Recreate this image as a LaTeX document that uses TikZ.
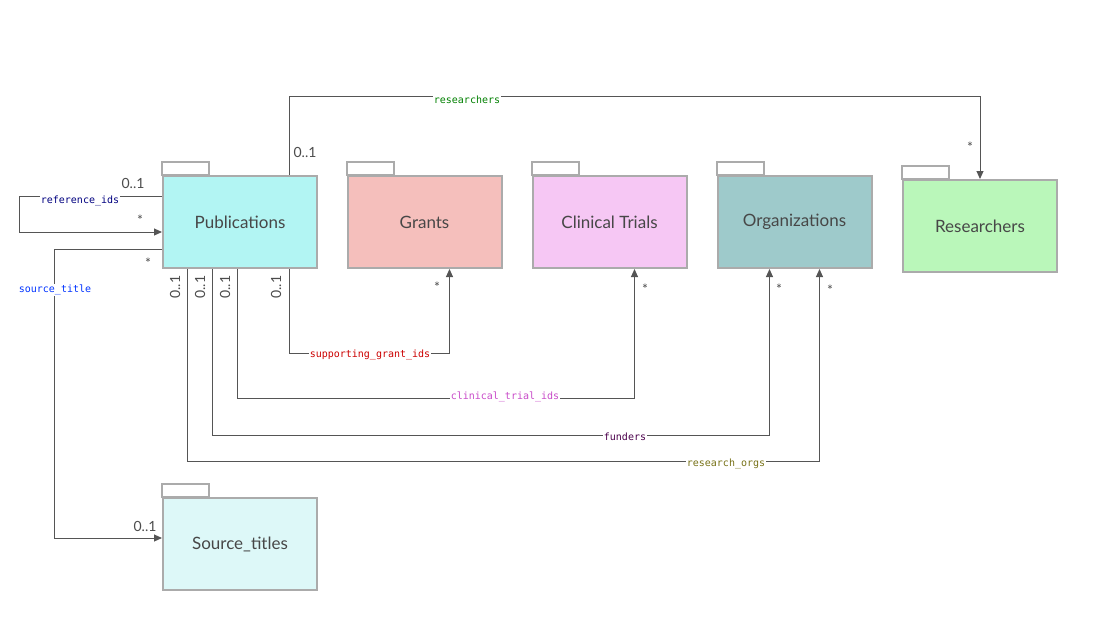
\documentclass[tikz,border=0pt]{standalone}
\usepackage{fontspec}
\setmainfont{Lato}
\newfontfamily\monofont{DejaVu Sans Mono}
\usetikzlibrary{arrows.meta,calc}
\definecolor{rimgray}{HTML}{ABABAB}
\definecolor{linegray}{HTML}{555555}
\definecolor{pubfill}{HTML}{B2F5F3}
\definecolor{grantfill}{HTML}{F5BFBC}
\definecolor{trialfill}{HTML}{F6C7F4}
\definecolor{orgfill}{HTML}{9ECACB}
\definecolor{resfill}{HTML}{BAF7BA}
\definecolor{srcfill}{HTML}{DDF8F8}
\begin{document}
\begin{tikzpicture}[x=1pt,y=-1pt,
  folder/.style={draw=rimgray, line width=2pt, fill=#1, minimum width=154pt, minimum height=92pt, font=\fontsize{17}{20}\selectfont, text=black!72, inner sep=0pt},
  tab/.style={draw=rimgray, line width=2pt},
  conn/.style={draw=linegray, line width=1pt},
  arr/.style={conn, -{Triangle[length=8pt, width=7pt]}},
  lbl/.style={font=\monofont\fontsize{10}{12}\selectfont, fill=white, inner sep=1pt},
  mult/.style={font=\fontsize{14}{16}\selectfont, text=black!70, inner sep=1pt}
]
\useasboundingbox (0,0) rectangle (1112,638);

% Folders
\node[folder=pubfill] (pub) at (240,222) {Publications};
\node[folder=grantfill] (grants) at (424.5,222) {Grants};
\node[folder=trialfill] (trials) at (609.5,222) {Clinical Trials};
\node[folder=orgfill] (orgs) at (794.5,222) {Organizations};
\node[folder=resfill] (res) at (980,226) {Researchers};
\node[folder=srcfill] (src) at (240,544) {Source\_titles};
\foreach \f in {pub,grants,trials,orgs,res,src}
  \draw[tab] (\f.north west) rectangle +(47,-13);

% Researchers
\draw[arr] ($(pub.north west)+(127,0)$) |- ++(0,-79) -| (res.north);
\node[lbl, text=green!50!black] (l1) at (467,100) {researchers};
\node[mult] at (305,152) {0..1};
\node[mult] at (970,147) {*};

% Reference ids
\draw[arr] ($(pub.north west)+(0,21)$) -- ++(-143,0) |- ($(pub.north west)+(0,57)$);
\node[lbl, text=blue!50!black] (l2) at (80,201) {reference\_ids};
\node[mult] at (133,183) {0..1};
\node[mult] at (140,220) {*};

% Source title
\draw[arr] ($(pub.north west)+(0,74)$) -- ++(-108,0) |- ($(src.west)+(0,-6)$);
\node[lbl, text=blue!80!cyan] (l3) at (55,290) {source\_title};
\node[mult] at (148,263) {*};
\node[mult] at (145,526) {0..1};

% Bottom links
\draw[arr] ($(pub.south west)+(127,0)$) |- ++(0,84) -| ($(grants.south west)+(103,0)$);
\draw[arr] ($(pub.south west)+(75,0)$) |- ++(0,129) -| ($(trials.south west)+(103,0)$);
\draw[arr] ($(pub.south west)+(50,0)$) |- ++(0,166) -| ($(orgs.south west)+(53,0)$);
\draw[arr] ($(pub.south west)+(25,0)$) |- ++(0,192) -| ($(orgs.south west)+(103,0)$);
\node[lbl, text=red!80!black] at (370,355) {supporting\_grant\_ids};
\node[lbl, text=violet!60!magenta!70] at (505,397) {clinical\_trial\_ids};
\node[lbl, text=violet!60!black] at (625,437) {funders};
\node[lbl, text=olive!80!black] at (726,464) {research\_orgs};
\foreach \x in {175,200,225,276}
  \node[mult, rotate=90] at (\x,287) {0..1};
\foreach \x/\y in {437/287,645/289,779/289,830/290}
  \node[mult] at (\x,\y) {*};
\end{tikzpicture}
\end{document}
